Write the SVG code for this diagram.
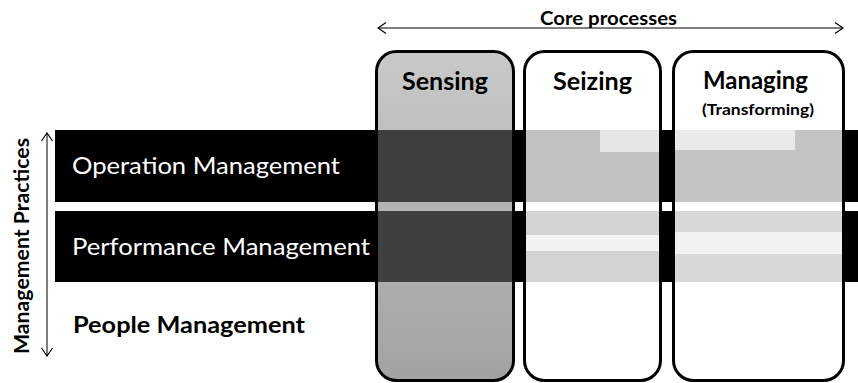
<svg xmlns="http://www.w3.org/2000/svg" width="858" height="383" viewBox="0 0 858 383">
  <style>
    .t { font-family: Lato, "Open Sans", "Liberation Sans", sans-serif; }
    .b { font-weight: bold; }
    .head { font-size: 24px; font-weight: bold; fill: #000; text-anchor: middle; }
    .row { font-size: 24px; fill: #fff; }
    .frame { fill: none; stroke: #000; stroke-width: 3; }
    .axis { stroke: #000; stroke-width: 1; fill: none; }
  </style>
  <defs>
    <marker id="chev" viewBox="0 0 10 12" refX="9" refY="6" markerWidth="10" markerHeight="12" markerUnits="userSpaceOnUse" orient="auto-start-reverse">
      <path d="M1,0.5 L9,6 L1,11.5" fill="none" stroke="#000" stroke-width="1.2"/>
    </marker>
    <linearGradient id="senseFill" x1="0" y1="0" x2="0" y2="1">
      <stop offset="0" stop-color="#c9c9c9"/>
      <stop offset="1" stop-color="#a2a2a2"/>
    </linearGradient>
    <clipPath id="clipSense"><rect x="376.5" y="51.5" width="137" height="329" rx="20"/></clipPath>
    <clipPath id="clipSeize"><rect x="524.5" y="51.5" width="136" height="329" rx="20"/></clipPath>
    <clipPath id="clipManage"><rect x="673.5" y="51.5" width="170" height="329" rx="20"/></clipPath>
  </defs>

  <rect width="858" height="383" fill="#fff"/>

  <!-- practice rows -->
  <g id="row-operation">
    <rect x="55" y="130" width="803" height="72" fill="#000"/>
    <text class="t row" x="72" y="174" textLength="268" lengthAdjust="spacingAndGlyphs">Operation Management</text>
  </g>
  <g id="row-performance">
    <rect x="55" y="211" width="803" height="71" fill="#000"/>
    <text class="t row" x="72" y="255" textLength="298" lengthAdjust="spacingAndGlyphs">Performance Management</text>
  </g>
  <g id="row-people">
    <text class="t b" x="73" y="333" font-size="23px" fill="#000" textLength="232" lengthAdjust="spacingAndGlyphs">People Management</text>
  </g>

  <!-- process columns -->
  <g id="col-sensing">
    <rect x="376.5" y="51.5" width="137" height="329" rx="20" fill="url(#senseFill)"/>
    <g clip-path="url(#clipSense)">
      <rect x="370" y="130" width="150" height="72" fill="#3e3e3e"/>
      <rect x="370" y="202" width="150" height="9" fill="#b4b4b4"/>
      <rect x="370" y="211" width="150" height="71" fill="#404040"/>
    </g>
    <rect class="frame" x="376.5" y="51.5" width="137" height="329" rx="20"/>
    <text class="t head" x="445" y="90" textLength="86" lengthAdjust="spacingAndGlyphs">Sensing</text>
  </g>
  <g id="col-seizing">
    <rect x="524.5" y="51.5" width="136" height="329" rx="20" fill="#fff"/>
    <g clip-path="url(#clipSeize)">
      <rect x="520" y="130" width="145" height="72" fill="#c2c2c2"/>
      <rect x="600" y="130" width="65" height="22" fill="#e6e6e6"/>
      <rect x="520" y="211" width="145" height="71" fill="#d4d4d4"/>
      <rect x="520" y="235" width="145" height="16" fill="#f2f2f2"/>
    </g>
    <rect class="frame" x="524.5" y="51.5" width="136" height="329" rx="20"/>
    <text class="t head" x="592.5" y="90" textLength="79" lengthAdjust="spacingAndGlyphs">Seizing</text>
  </g>
  <g id="col-managing">
    <rect x="673.5" y="51.5" width="170" height="329" rx="20" fill="#fff"/>
    <g clip-path="url(#clipManage)">
      <rect x="670" y="130" width="180" height="72" fill="#c4c4c4"/>
      <rect x="670" y="130" width="125" height="20" fill="#eaeaea"/>
      <rect x="670" y="211" width="180" height="71" fill="#d8d8d8"/>
      <rect x="670" y="232" width="180" height="22" fill="#f2f2f2"/>
    </g>
    <rect class="frame" x="673.5" y="51.5" width="170" height="329" rx="20"/>
    <text class="t head" x="755.5" y="89" textLength="105" lengthAdjust="spacingAndGlyphs">Managing</text>
    <text class="t b" x="758" y="115" font-size="16px" text-anchor="middle" textLength="112" lengthAdjust="spacingAndGlyphs">(Transforming)</text>
  </g>

  <!-- axis labels -->
  <g id="label-core">
    <text class="t b" x="608.5" y="25" font-size="18px" text-anchor="middle" textLength="137" lengthAdjust="spacingAndGlyphs">Core processes</text>
  </g>
  <g id="label-practices">
    <text class="t b" transform="translate(29,246) rotate(-90)" x="0" y="0" font-size="20px" text-anchor="middle" textLength="216" lengthAdjust="spacingAndGlyphs">Management Practices</text>
  </g>

  <!-- connectors: double-headed axis arrows -->
  <g id="connectors">
    <line class="axis" x1="378" y1="28" x2="843" y2="28" marker-start="url(#chev)" marker-end="url(#chev)"/>
    <line class="axis" x1="47" y1="133" x2="47" y2="356" marker-start="url(#chev)" marker-end="url(#chev)"/>
  </g>
</svg>
